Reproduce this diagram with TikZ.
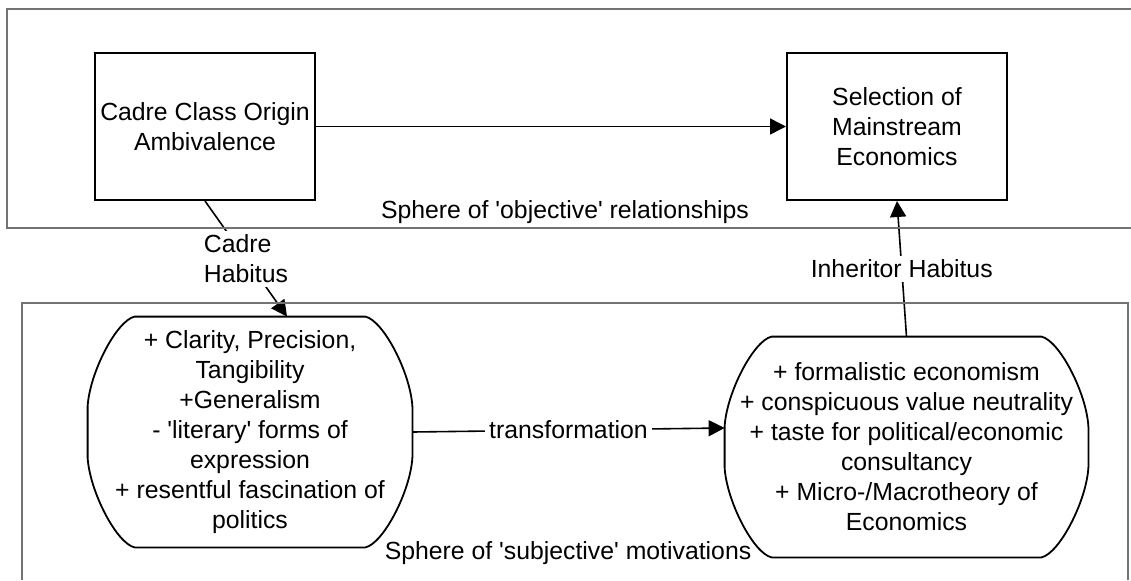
\documentclass[tikz,border=0pt]{standalone}
\usepackage{fontspec}
\setmainfont{Liberation Sans}
\usepackage{tikz}
\usetikzlibrary{arrows.meta, positioning}

\newcommand{\sq}{\textquotesingle}
\newcommand{\habitusframe}[1]{%
  \draw[frameline] ([xshift=23.5pt]#1.north west) -- ([xshift=-23.5pt]#1.north east)
    .. controls ([xshift=-14.5pt,yshift=-2pt]#1.north east) and ([xshift=-1pt,yshift=-28pt]#1.north east) .. ([yshift=-45pt]#1.north east)
    -- ([yshift=45pt]#1.south east)
    .. controls ([xshift=-1pt,yshift=28pt]#1.south east) and ([xshift=-14.5pt,yshift=2pt]#1.south east) .. ([xshift=-23.5pt]#1.south east)
    -- ([xshift=23.5pt]#1.south west)
    .. controls ([xshift=14.5pt,yshift=2pt]#1.south west) and ([xshift=1pt,yshift=28pt]#1.south west) .. ([yshift=45pt]#1.south west)
    -- ([yshift=-45pt]#1.north west)
    .. controls ([xshift=1pt,yshift=-28pt]#1.north west) and ([xshift=14.5pt,yshift=-2pt]#1.north west) .. cycle;}

\begin{document}
\begin{tikzpicture}[
    x=0.5pt, y=-0.5pt,
    every node/.style={font=\fontsize{12.4}{15}\selectfont},
    classbox/.style={rectangle, draw=black, line width=1pt, minimum width=110pt, minimum height=73.5pt, align=center, inner sep=2pt},
    habitusbox/.style={rectangle, align=center, inner sep=0pt},
    frameline/.style={draw=black, line width=0.9pt},
    sphere/.style={draw=black!55, line width=1pt},
    arrow/.style={line width=0.8pt, -{Triangle[length=8pt,width=8pt]}},
    arrowlabel/.style={fill=white, inner sep=2pt}
]
\useasboundingbox (0,0) rectangle (1131,580);

\node[classbox] (origin) at (205,126.5) {Cadre Class Origin\\Ambivalence};
\node[classbox] (select) at (897,126.5) {Selection of\\Mainstream\\Economics};
\node[habitusbox, minimum width=162pt, minimum height=115pt] (cadrehab) at (250,432)
    {+ Clarity, Precision,\\Tangibility\\+Generalism\\- \sq literary\sq{} forms of\\expression\\+ resentful fascination of\\politics};
\node[habitusbox, minimum width=181.5pt, minimum height=110pt] (inherhab) at (906.5,447)
    {+ formalistic economism\\+ conspicuous value neutrality\\+ taste for political/economic\\consultancy\\+ Micro-/Macrotheory of\\Economics};
\habitusframe{cadrehab}
\habitusframe{inherhab}

\node (objective) at (565,212) {Sphere of \sq objective\sq{} relationships};
\node (subjective) at (568,553) {Sphere of \sq subjective\sq{} motivations};

\draw[arrow] (origin.east) -- (select.west);
\draw[arrow] (origin.south) -- node[arrowlabel, align=left] {Cadre\\Habitus} ([xshift=18.5pt]cadrehab.north);
\draw[arrow] (cadrehab.east) -- node[arrowlabel] {transformation} ([yshift=9.5pt]inherhab.west);
\draw[arrow] (inherhab.north) -- node[arrowlabel] {Inheritor Habitus} (select.south);

% sphere frames
\draw[sphere] (1131,9) -- (7,9) -- (7,228) -- (1131,228);
\draw[sphere] (22,580) -- (22,303) -- (1128,303) -- (1128,580);
\end{tikzpicture}
\end{document}
